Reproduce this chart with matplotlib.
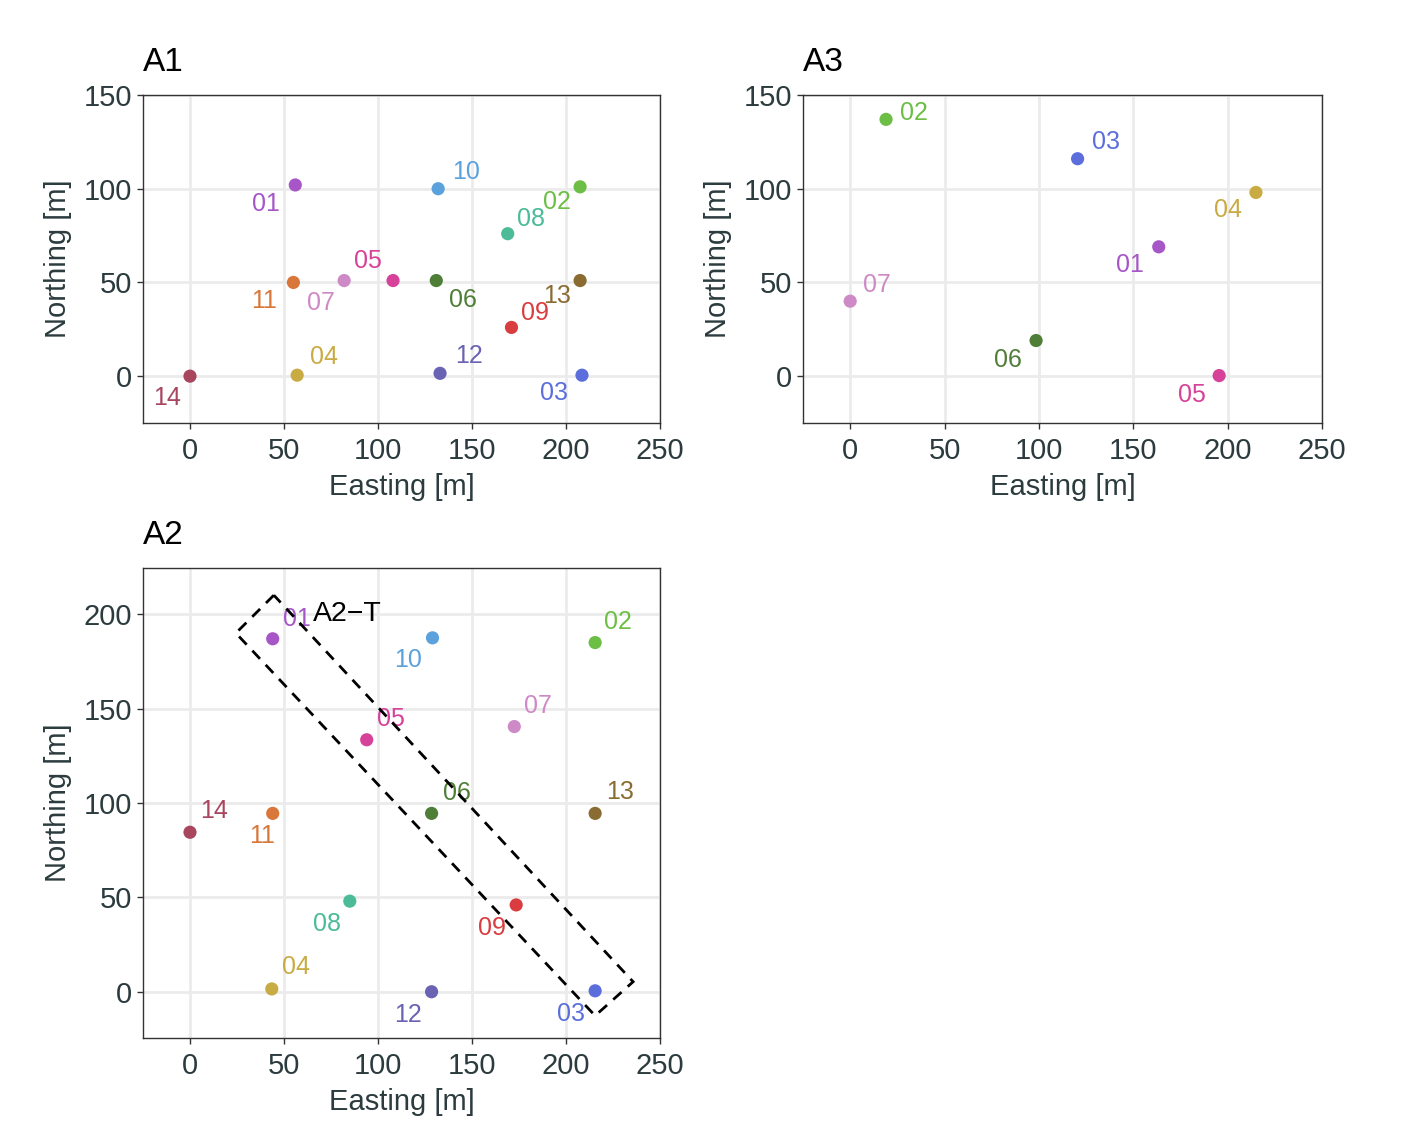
import matplotlib
matplotlib.use('Agg')
import matplotlib.pyplot as plt
from matplotlib.patches import Polygon

plt.rcParams['font.family'] = ['Liberation Sans', 'DejaVu Sans']

# colour of each well id (same in all panels)
well_colors = {'01': '#A656C7', '02': '#6CBE45', '03': '#5B6EDB', '04': '#C9AB44',
               '05': '#D6429A', '06': '#4F7E37', '07': '#CE8AC6', '08': '#4CBB98',
               '09': '#D93D3F', '10': '#5BA1DC', '11': '#D9763A', '12': '#6A63B3',
               '13': '#8A6B31', '14': '#A8465F'}

# A1
a1_ids = ['14', '04', '11', '07', '05', '01', '10', '06', '12', '08', '09', '02', '13', '03']
a1_east = [0, 57, 55, 82, 108, 56, 132, 131, 133, 169, 171, 207.5, 207.5, 208.5]
a1_north = [0, 0.5, 50, 51, 51, 102, 100, 51, 1.5, 76, 26, 101, 51, 0.5]
a1_off = [(-23, 22), (27, -18), (-29, 19), (-23, 22), (-25, -20), (-29, 19), (28, -17),
          (27, 19), (29, -17), (23, -15), (23, -14), (-23, 15), (-23, 15), (-28, 18)]

# A3
a3_ids = ['02', '03', '04', '01', '07', '06', '05']
a3_east = [19, 120.5, 215, 163.5, 0, 98.5, 195.5]
a3_north = [137, 116, 98, 69, 40, 19, 0.3]
a3_off = [(28, -6), (28, -17), (-28, 18), (-29, 18), (27, -16), (-28, 19), (-27, 19)]

# A2
a2_ids = ['01', '10', '02', '07', '05', '14', '11', '06', '13', '08', '09', '04', '12', '03']
a2_east = [44, 129, 215.5, 172.5, 94, 0, 44, 128.5, 215.5, 85, 173.5, 43.5, 128.5, 215.5]
a2_north = [187, 187.5, 185, 140.5, 133.5, 84.5, 94.5, 94.5, 94.5, 48, 46, 1.5, 0, 0.5]
a2_off = [(24, -20), (-24, 22), (23, -21), (24, -21), (24, -21), (24, -21), (-11, 23),
          (25, -20), (25, -21), (-23, 23), (-24, 23), (24, -22), (-24, 23), (-24, 23)]

# transect A2-T corners (easting, northing)
trans_east = [44.6, 24.4, 215.5, 235.7]
trans_north = [210.1, 190.0, -12.7, 5.3]

text_col = '#2B3B3E'
W, H = 1417, 1134
fig = plt.figure(figsize=(W / 100, H / 100), dpi=100)


def panel(rect, title, ids, east, north, off, ylim, yticks):
    ax = fig.add_axes(rect)
    ax.set_xlim(-25, 250)
    ax.set_ylim(*ylim)
    ax.set_xticks([0, 50, 100, 150, 200, 250])
    ax.set_yticks(yticks)
    ax.grid(True, color='#EBEBEB', lw=2.0)
    ax.set_axisbelow(True)
    for s in ax.spines.values():
        s.set_color('#333333')
        s.set_linewidth(1.0)
    ax.tick_params(colors='#333333', labelcolor=text_col, labelsize=21,
                   length=4, width=1.0)
    ax.tick_params(axis='x', pad=6)
    ax.tick_params(axis='y', pad=4)
    ax.set_xlabel('Easting [m]', fontsize=21, color=text_col, labelpad=6)
    ax.set_ylabel('Northing [m]', fontsize=21, color=text_col, labelpad=8)
    ax.set_title(title, loc='left', fontsize=24, pad=17)
    cols = [well_colors[i] for i in ids]
    ax.scatter(east, north, s=90, c=cols, zorder=3, linewidths=0)
    for i in range(len(ids)):
        ax.annotate(ids[i], (east[i], north[i]), xytext=(off[i][0], -off[i][1]),
                    textcoords='offset pixels', ha='center', va='center',
                    fontsize=18, color=cols[i], zorder=4)
    return ax


ax1 = panel([143 / W, 1 - 423 / H, 517 / W, 328 / H], 'A1', a1_ids, a1_east, a1_north,
            a1_off, (-25, 150), [0, 50, 100, 150])
ax3 = panel([803 / W, 1 - 423 / H, 519 / W, 328 / H], 'A3', a3_ids, a3_east, a3_north,
            a3_off, (-25, 150), [0, 50, 100, 150])
ax2 = panel([143 / W, 1 - 1038 / H, 517 / W, 470 / H], 'A2', a2_ids, a2_east, a2_north,
            a2_off, (-24.5, 224.5), [0, 50, 100, 150, 200])

poly = Polygon(list(zip(trans_east, trans_north)), closed=True, fill=False,
               edgecolor='black', lw=2.0, linestyle=(0, (4, 3)), zorder=5)
ax2.add_patch(poly)
ax2.text(65.5, 200, 'A2\u2212T', fontsize=20.5, ha='left', va='center', color='black', zorder=6)

fig.savefig('out.png', dpi=100)
